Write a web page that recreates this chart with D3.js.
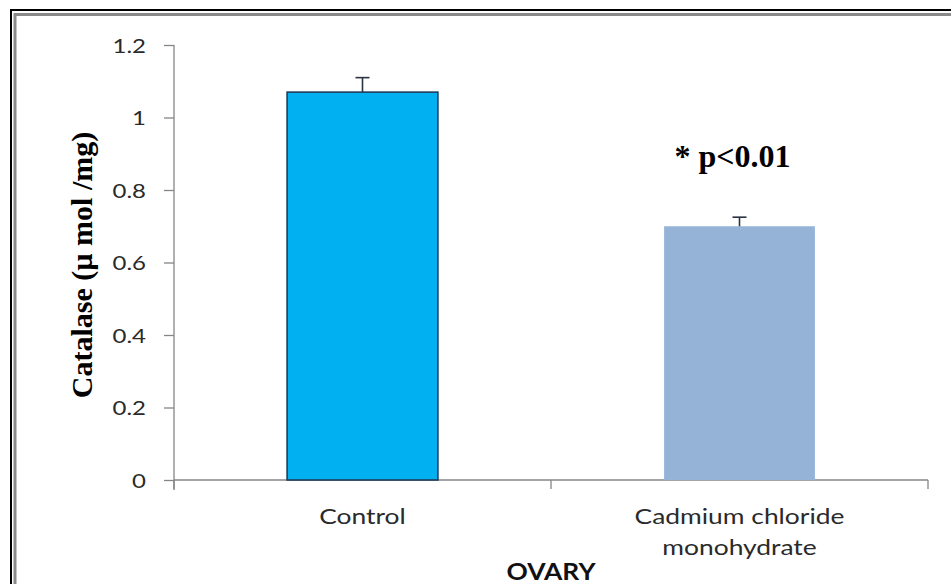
<!DOCTYPE html>
<html>
<head>
<meta charset="utf-8">
<script src="https://cdn.jsdelivr.net/npm/d3@7/dist/d3.min.js"></script>
<style>
  html, body { margin: 0; padding: 0; background: #fff; }
  svg { display: block; }
</style>
</head>
<body>
<svg id="chart" width="951" height="584"></svg>
<script>
// ---- data ----
const categories = ["Control", "Cadmium chloride monohydrate"];
const labelLines = [["Control"], ["Cadmium chloride", "monohydrate"]];
const values = [1.07, 0.70];
const errors = [0.04, 0.025];
const yTicks = [0, 0.2, 0.4, 0.6, 0.8, 1, 1.2];
const yTickLabels = ["0", "0.2", "0.4", "0.6", "0.8", "1", "1.2"];
const fills = ["#00B0F0", "#95B3D7"];
const strokes = ["#1F3D5C", "none"];
const yTitle = "Catalase (\u00B5 mol /mg)";
const xTitle = "OVARY";
const annotation = "* p<0.01";
const annotationValue = 0.863;

(function () {
const svg = d3.select("#chart");

// frame
svg.append("rect").attr("x", 11).attr("y", 10).attr("width", 980).attr("height", 620)
  .attr("fill", "none").attr("stroke", "#000").attr("stroke-width", 2);
svg.append("rect").attr("x", 15).attr("y", 14.5).attr("width", 980).attr("height", 620)
  .attr("fill", "none").attr("stroke", "#8a8a8a").attr("stroke-width", 3);

const mLeft = 174, mRight = 928, mTop = 45, mBottom = 480;

const y = d3.scaleLinear().domain([0, 1.2]).range([mBottom, mTop]);
const x = d3.scaleBand().domain(categories).range([mLeft, mRight])
  .paddingInner(0.6).paddingOuter(0.3);

const axisColor = "#868686";
const sansFont = "Lato, 'Open Sans', sans-serif";
const sx = 1.2;

// y axis
const yAxis = svg.append("g").attr("transform", `translate(${mLeft},0)`)
  .call(d3.axisLeft(y).tickValues(yTicks).tickFormat((d, i) => yTickLabels[i]).tickSize(10).tickSizeOuter(0));
yAxis.select(".domain").attr("stroke", axisColor).attr("stroke-width", 1.3)
  .attr("d", `M0,${mTop}V${mBottom + 10}`);
yAxis.selectAll(".tick line").attr("stroke", axisColor).attr("stroke-width", 1.3);
yAxis.selectAll(".tick text").remove();
yAxis.selectAll(".tick").append("text")
  .attr("transform", `translate(-28,7) scale(${sx},1)`)
  .attr("text-anchor", "end")
  .attr("fill", "#2a2a2a")
  .style("font-family", sansFont).style("font-size", "20px")
  .text((d, i) => yTickLabels[i]);

// x axis line and ticks at slot boundaries
const bds = [mLeft, (x(categories[0]) + x.bandwidth() + x(categories[1])) / 2, mRight];
svg.append("line").attr("x1", mLeft).attr("x2", mRight).attr("y1", mBottom).attr("y2", mBottom)
  .attr("stroke", axisColor).attr("stroke-width", 1.3);
svg.selectAll(".xtick").data(bds).enter().append("line")
  .attr("x1", d => d).attr("x2", d => d).attr("y1", mBottom).attr("y2", mBottom + 9)
  .attr("stroke", axisColor).attr("stroke-width", 1.3);

// bars
svg.selectAll(".bar").data(categories).enter().append("rect")
  .attr("x", d => x(d))
  .attr("y", (d, i) => y(values[i]))
  .attr("width", x.bandwidth())
  .attr("height", (d, i) => y(0) - y(values[i]))
  .attr("fill", (d, i) => fills[i])
  .attr("stroke", (d, i) => strokes[i])
  .attr("stroke-width", 1.6);

// error bars
const cap = 7;
categories.forEach((c, i) => {
  const cx = x(c) + x.bandwidth() / 2;
  svg.append("line").attr("x1", cx).attr("x2", cx)
    .attr("y1", y(values[i])).attr("y2", y(values[i] + errors[i]))
    .attr("stroke", "#2a3440").attr("stroke-width", 1.6);
  svg.append("line").attr("x1", cx - cap).attr("x2", cx + cap)
    .attr("y1", y(values[i] + errors[i])).attr("y2", y(values[i] + errors[i]))
    .attr("stroke", "#2a3440").attr("stroke-width", 1.6);
});

// category labels
categories.forEach((c, i) => {
  const cx = x(c) + x.bandwidth() / 2;
  labelLines[i].forEach((line, j) => {
    svg.append("text")
      .attr("transform", `translate(${cx},${524 + j * 31}) scale(${sx},1)`)
      .attr("text-anchor", "middle")
      .attr("fill", "#2a2a2a")
      .style("font-family", sansFont).style("font-size", "22px")
      .text(line);
  });
});

// x title
svg.append("text")
  .attr("transform", `translate(${(mLeft + mRight) / 2},580) scale(${sx},1)`)
  .attr("text-anchor", "middle")
  .attr("fill", "#111")
  .style("font-family", sansFont).style("font-size", "22px").style("font-weight", "bold")
  .text(xTitle);

// y title
svg.append("text")
  .attr("transform", `translate(92,265) rotate(-90)`)
  .attr("text-anchor", "middle")
  .attr("fill", "#000")
  .style("font-family", "'Liberation Serif', 'Times New Roman', serif")
  .style("font-size", "30px").style("font-weight", "bold")
  .text(yTitle);

// annotation
svg.append("text")
  .attr("x", x(categories[1]) + x.bandwidth() / 2 - 7)
  .attr("y", y(annotationValue))
  .attr("text-anchor", "middle")
  .attr("fill", "#000")
  .style("font-family", "'Liberation Serif', 'Times New Roman', serif")
  .style("font-size", "32px").style("font-weight", "bold")
  .text(annotation);
})();
</script>
</body>
</html>
